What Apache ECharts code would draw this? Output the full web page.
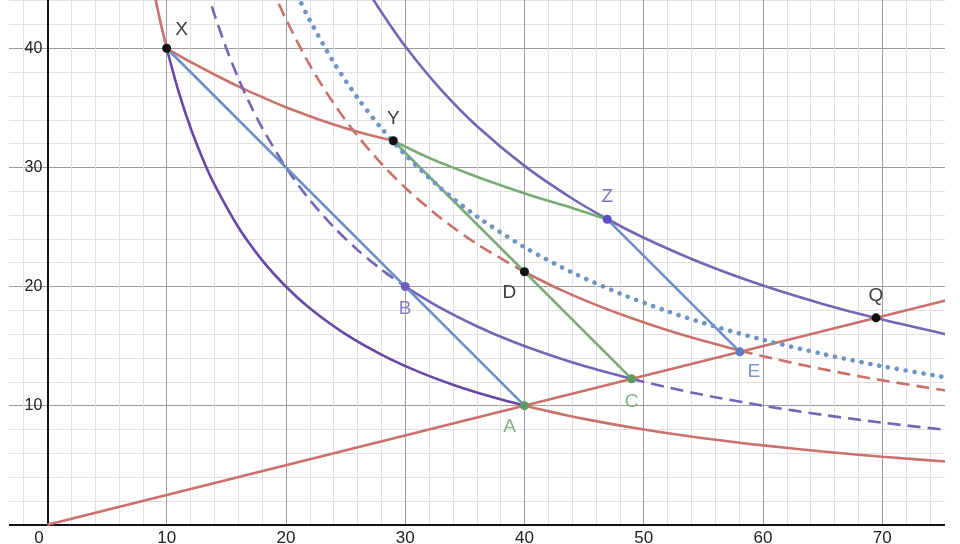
<!DOCTYPE html>
<html><head><meta charset="utf-8">
<script src="https://cdn.jsdelivr.net/npm/echarts@6/dist/echarts.min.js"></script>
<style>html,body{margin:0;padding:0;background:#fff}#c{width:960px;height:544px}</style>
</head><body><div id="c"></div>
<script>
// ---- tick labels ----
const xTickLabels = [0, 10, 20, 30, 40, 50, 60, 70];
const yTickLabels = [10, 20, 30, 40];

// ---- curves, [x, y] pairs ----
// indifference curve through X and A (u = 400)
const ic400Left  = [[8,50],[8.5,47.06],[9,44.44],[9.5,42.11],[10,40]];
const ic400Mid   = [[10,40],[11,36.36],[12,33.33],[13,30.77],[14,28.57],[16,25],[18,22.22],[20,20],[22,18.18],[25,16],[28,14.29],[31,12.9],[34,11.76],[37,10.81],[40,10]];
const ic400Right = [[40,10],[45,8.89],[50,8],[55,7.27],[60,6.67],[65,6.15],[70,5.71],[75.3,5.31]];
// ray through the origin
const rayOrigin  = [[0,0],[75.3,18.83]];
// curve X -> Y
const curveXY    = [[10,40],[12,38.85],[14,37.8],[16,36.8],[18,35.9],[20,35.05],[22,34.3],[24,33.6],[26,33.0],[29,32.24]];
// indifference curve through B and C (u = 600)
const ic600Top   = [[12,50],[12.5,48],[13,46.15],[13.5,44.44],[14,42.86],[15,40],[16,37.5],[17,35.29],[18,33.33],[20,30],[22,27.27],[24,25],[26,23.08],[28,21.43],[30,20]];
const ic600Mid   = [[30,20],[33,18.18],[36,16.67],[39,15.38],[42,14.29],[45,13.33],[48.99,12.25]];
const ic600Right = [[48.99,12.25],[52,11.54],[56,10.71],[60,10],[65,9.23],[70,8.57],[75.3,7.97]];
// red curve through D and E
const icDTop     = [[17,50],[18,47.17],[19,44.68],[20,42.45],[22,38.59],[24,35.38],[26,32.65],[28,30.32],[30,28.3],[33,25.73],[36,23.58],[40,21.22]];
const icDMid     = [[40,21.22],[43,19.74],[46,18.46],[49,17.33],[52,16.33],[55,15.44],[58.06,14.62]];
const icDRight   = [[58.06,14.62],[61,13.92],[64,13.27],[67,12.67],[70,12.13],[75.3,11.27]];
// dotted curve through Y
const icYDotted  = [[18.64,50],[20,46.6],[21,44.38],[22,42.36],[24,38.83],[26,35.85],[28,33.29],[30,31.07],[33,28.24],[36,25.89],[40,23.3],[44,21.18],[48,19.42],[52,17.92],[56,16.64],[60,15.53],[65,14.34],[70,13.31],[75.3,12.38]];
// curve through Z and Q
const icZQ       = [[24.1,50],[25,48.2],[26,46.35],[27,44.63],[28,43.04],[30,40.17],[33,36.52],[36,33.47],[40,30.13],[44,27.39],[46.94,25.67],[50,24.1],[55,21.91],[60,20.08],[65,18.54],[69.47,17.35],[75.3,16.0]];
// budget lines
const budgetXA   = [[10,40],[40,10]];
const budgetZE   = [[46.94,25.64],[58.06,14.52]];
const budgetYC   = [[29,32.24],[48.99,12.25]];
// green curve Y -> Z
const curveYZ    = [[29,32.24],[32,30.8],[35,29.6],[38,28.5],[41,27.5],[44,26.6],[46.94,25.64]];

// ---- labelled points ----
const pointNames = ['X','Y','Z','D','B','A','C','E','Q'];
const pointX     = [10, 29, 46.94, 40, 30, 40, 48.99, 58.06, 69.47];
const pointY     = [40, 32.24, 25.64, 21.24, 20, 10, 12.25, 14.52, 17.37];

// ---- styles ----
const RED = '#c9716b', PURPLE = '#7466b5', PURPLE_DARK = '#6748a6', BLUE = '#6e8fc8', BLUE_DOT = '#6f95c4', GREEN = '#78ab75';
const FONT = 'Liberation Sans, Arial, sans-serif';
const pointStyle = {
  X: {dot:'#111', text:'#3d3d3d', off:[15,-19]},
  Y: {dot:'#111', text:'#3d3d3d', off:[0,-22]},
  Z: {dot:'#5b4fc4', text:'#7b70bd', off:[0,-23]},
  D: {dot:'#111', text:'#3d3d3d', off:[-15,21]},
  B: {dot:'#6a5cc0', text:'#8a80c2', off:[0,22]},
  A: {dot:'#5f9a5f', text:'#86b486', off:[-15,21]},
  C: {dot:'#5f9a5f', text:'#86b486', off:[0,23]},
  E: {dot:'#5a7fc4', text:'#7b9bd0', off:[14,20]},
  Q: {dot:'#111', text:'#3d3d3d', off:[0,-22]}
};

function line(data, color, type, width, extra) {
  return {
    type: 'line', data: data, showSymbol: false, smooth: data.length > 2 ? 0.3 : false,
    animation: false, silent: true,
    lineStyle: Object.assign({color: color, width: width || 2.6, type: type || 'solid'}, extra || {})
  };
}
const DASH = [13, 7];

const series = [
  line(ic400Left, RED),
  line(ic400Mid, PURPLE_DARK),
  line(ic400Right, RED),
  line(rayOrigin, RED),
  line(curveXY, RED),
  line(ic600Top, PURPLE, DASH),
  line(ic600Mid, PURPLE),
  line(ic600Right, PURPLE, DASH),
  line(icDTop, RED, DASH),
  line(icDMid, RED),
  line(icDRight, RED, DASH),
  line(icZQ, PURPLE),
  line(budgetXA, BLUE),
  line(budgetZE, BLUE),
  line(budgetYC, GREEN),
  line(curveYZ, GREEN),
  line(icYDotted, BLUE_DOT, [0.1, 8.9], 4.6, {cap: 'round'})
];

pointNames.forEach(function (n, i) {
  const s = pointStyle[n];
  series.push({
    type: 'scatter', animation: false, silent: true, z: 5,
    symbolSize: 9,
    itemStyle: {color: s.dot, opacity: 1},
    data: [{name: n, value: [pointX[i], pointY[i]]}],
    label: {show: true, position: 'inside', offset: s.off, formatter: n,
            color: s.text, fontSize: 19, fontFamily: FONT}
  });
});

const chart = echarts.init(document.getElementById('c'), null, {renderer: 'canvas'});
chart.setOption({
  animation: false,
  backgroundColor: '#fff',
  grid: {left: -71.87, right: -41.56, top: -70.85, bottom: 19.2, containLabel: false, outerBoundsMode: 'none'},
  xAxis: {
    type: 'value', min: -10, max: 80, interval: 10,
    axisLine: {show: true, onZero: true, lineStyle: {color: '#111', width: 2}},
    axisTick: {show: false},
    minorTick: {show: false, splitNumber: 5},
    splitLine: {show: true, lineStyle: {color: '#9c9c9c', width: 1}},
    minorSplitLine: {show: true, lineStyle: {color: '#e0e0e0', width: 1}},
    axisLabel: {
      margin: 5, fontSize: 17, color: '#222', fontFamily: FONT,
      formatter: function (v) {
        if (v === 0) return '{z|0}';
        return xTickLabels.indexOf(v) >= 0 ? String(v) : '';
      },
      rich: {z: {fontSize: 17, color: '#222', padding: [0, 17, 0, 0], fontFamily: FONT}}
    }
  },
  yAxis: {
    type: 'value', min: 0, max: 50, interval: 10,
    position: 'left', offset: -119.27,
    axisLine: {show: true, onZero: false, lineStyle: {color: '#111', width: 2}},
    axisTick: {show: false},
    minorTick: {show: false, splitNumber: 5},
    splitLine: {show: true, lineStyle: {color: '#9c9c9c', width: 1}},
    minorSplitLine: {show: true, lineStyle: {color: '#e0e0e0', width: 1}},
    axisLabel: {
      show: true, margin: 5, fontSize: 16, color: '#222', fontFamily: FONT,
      formatter: function (v) { return yTickLabels.indexOf(v) >= 0 ? String(v) : ''; }
    }
  },
  graphic: [
    {type: 'rect', z: 100, silent: true, shape: {x: 945, y: 0, width: 20, height: 544}, style: {fill: '#fff'}},
    {type: 'rect', z: 100, silent: true, shape: {x: 0, y: 0, width: 9, height: 544}, style: {fill: '#fff'}}
  ],
  series: series
});
</script>
</body></html>
